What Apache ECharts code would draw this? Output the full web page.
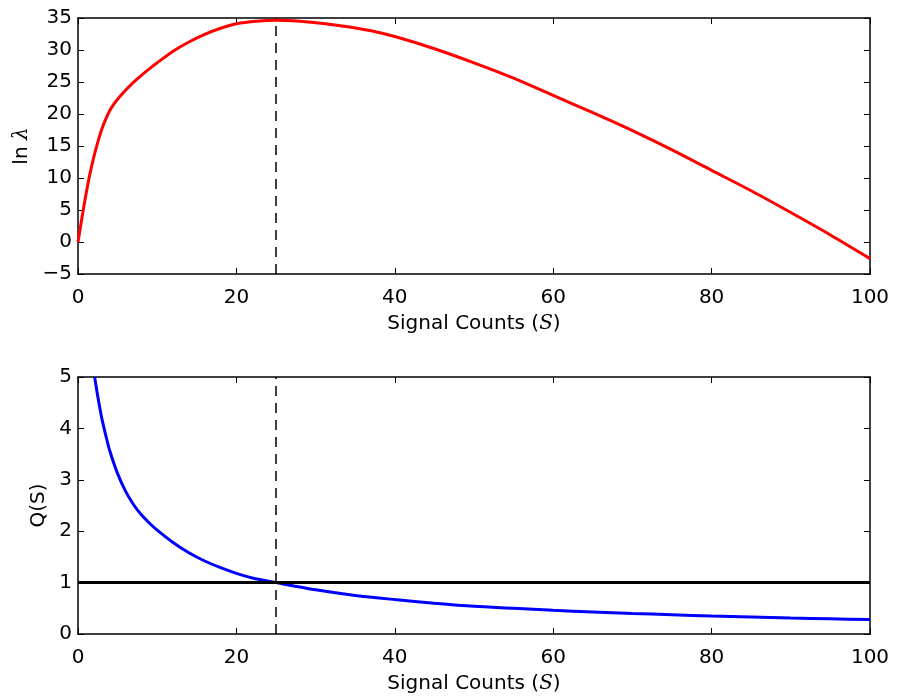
<!DOCTYPE html>
<html>
<head>
<meta charset="utf-8">
<script src="https://cdn.jsdelivr.net/npm/echarts@6/dist/echarts.min.js"></script>
<style>
html,body{margin:0;padding:0;background:#fff;}
#chart{width:901px;height:698px;}
</style>
</head>
<body>
<div id="chart"></div>
<script>
// ---- data ----
const sTop = [0, 0.5, 1, 1.5, 2, 2.5, 3, 3.5, 4, 4.5, 5, 6, 7, 8, 9, 10, 12, 14, 16, 18, 20, 22.5, 25, 28, 31, 34.3, 37, 40, 45, 50, 55, 60, 65, 70, 75, 80, 85, 90, 95, 100];
const lnLambda = [0, 3.8, 7.4, 10.6, 13.3, 15.6, 17.6, 19.2, 20.5, 21.5, 22.3, 23.7, 24.95, 26.05, 27.05, 28.0, 29.8, 31.25, 32.45, 33.4, 34.1, 34.5, 34.65, 34.5, 34.15, 33.6, 33.0, 32.1, 30.2, 28.0, 25.6, 22.9, 20.2, 17.4, 14.4, 11.2, 8.0, 4.6, 1.1, -2.6];
const sBottom = [2.1, 2.5, 3, 3.5, 4, 5, 6, 7, 8, 9, 10, 12, 14, 16, 18, 20, 22, 25, 30, 35, 40, 45, 50, 55, 60, 65, 70, 75, 80, 85, 90, 95, 100];
const qValues = [5.0, 4.62, 4.2, 3.87, 3.57, 3.12, 2.78, 2.52, 2.32, 2.16, 2.02, 1.78, 1.58, 1.42, 1.29, 1.18, 1.09, 1.0, 0.86, 0.75, 0.67, 0.60, 0.54, 0.50, 0.46, 0.43, 0.40, 0.375, 0.35, 0.33, 0.31, 0.295, 0.28];
const peakS = 25;
const qThreshold = 1;
const xTicks = [0, 20, 40, 60, 80, 100];
const yTopTicks = [-5, 0, 5, 10, 15, 20, 25, 30, 35];
const yBottomTicks = [0, 1, 2, 3, 4, 5];

const FONT = 'DejaVu Sans';
const FS = 20;
const chart = echarts.init(document.getElementById('chart'), null, {renderer: 'canvas'});

function pairs(xs, ys) { return xs.map((x, i) => [x, ys[i]]); }

const frameLine = {show: true, onZero: false, lineStyle: {color: '#000', width: 1.5}};
const tickIn = {show: true, inside: true, length: 6, lineStyle: {color: '#000', width: 1}};
const labelStyle = {color: '#000', fontFamily: FONT, fontSize: FS};
const nameRich = {
  n: {fontFamily: FONT, fontSize: FS, color: '#000'},
  i: {fontFamily: 'DejaVu Serif', fontStyle: 'italic', fontSize: FS, color: '#000'}
};

function xMain(gi) {
  return {
    type: 'value', gridIndex: gi, min: xTicks[0], max: xTicks[xTicks.length - 1], interval: 20,
    position: 'bottom',
    axisLine: frameLine, axisTick: tickIn,
    axisLabel: Object.assign({margin: 14}, labelStyle),
    splitLine: {show: false},
    name: '{n|Signal Counts (}{i|S}{n|)}', nameLocation: 'middle', nameGap: 40,
    nameTextStyle: {rich: nameRich}
  };
}
function xMirror(gi) {
  return {
    type: 'value', gridIndex: gi, min: xTicks[0], max: xTicks[xTicks.length - 1], interval: 20,
    position: 'top',
    axisLine: frameLine, axisTick: tickIn, axisLabel: {show: false}, splitLine: {show: false}
  };
}
function yMain(gi, ticks, step, name, gap) {
  return {
    type: 'value', gridIndex: gi, min: ticks[0], max: ticks[ticks.length - 1], interval: step,
    position: 'left',
    axisLine: frameLine, axisTick: tickIn,
    axisLabel: Object.assign({margin: 6, formatter: v => (v < 0 ? '\u2212' + Math.abs(v) : String(v))}, labelStyle),
    splitLine: {show: false},
    name: name, nameLocation: 'middle', nameGap: gap, nameRotate: 90,
    nameTextStyle: {rich: nameRich}
  };
}
function yMirror(gi, ticks, step) {
  return {
    type: 'value', gridIndex: gi, min: ticks[0], max: ticks[ticks.length - 1], interval: step,
    position: 'right',
    axisLine: frameLine, axisTick: tickIn, axisLabel: {show: false}, splitLine: {show: false}
  };
}

const option = {
  backgroundColor: '#fff',
  animation: false,
  grid: [
    {left: 78, top: 18, width: 792, height: 256},
    {left: 78, top: 377, width: 792, height: 257}
  ],
  xAxis: [xMain(0), xMirror(0), xMain(1), xMirror(1)],
  yAxis: [
    yMain(0, yTopTicks, 5, '{n|ln }{i|λ}', 39),
    yMirror(0, yTopTicks, 5),
    yMain(1, yBottomTicks, 1, '{n|Q(S)}', 29),
    yMirror(1, yBottomTicks, 1)
  ],
  series: [
    {
      type: 'line', xAxisIndex: 0, yAxisIndex: 0, data: pairs(sTop, lnLambda),
      showSymbol: false, smooth: 0.3, clip: true,
      lineStyle: {color: '#ff0000', width: 3}, z: 3,
      markLine: {
        silent: true, symbol: ['none', 'none'], label: {show: false},
        lineStyle: {color: '#000', type: [10, 7], width: 1.5},
        data: [{xAxis: peakS}]
      }
    },
    {
      type: 'line', xAxisIndex: 2, yAxisIndex: 2, data: pairs(sBottom, qValues),
      showSymbol: false, smooth: 0.3, clip: true,
      lineStyle: {color: '#0000ff', width: 3}, z: 3,
      markLine: {
        silent: true, symbol: ['none', 'none'], label: {show: false},
        data: [
          {xAxis: peakS, lineStyle: {color: '#000', type: [10, 7], width: 1.5}},
          {yAxis: qThreshold, lineStyle: {color: '#000', type: 'solid', width: 3}}
        ]
      }
    }
  ]
};
chart.setOption(option);
</script>
</body>
</html>
